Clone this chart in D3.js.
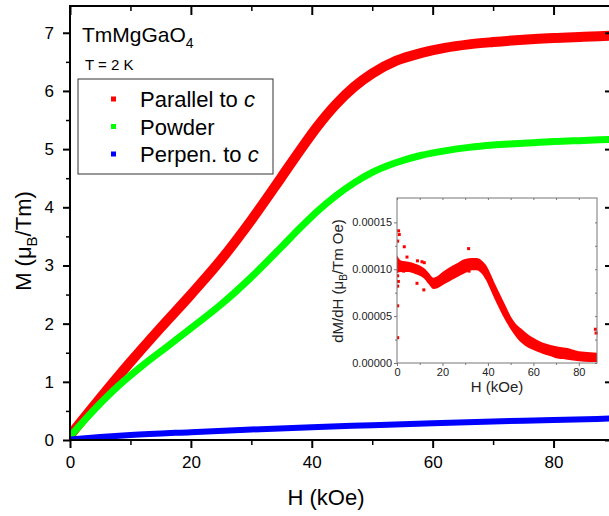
<!DOCTYPE html>
<html>
<head>
<meta charset="utf-8">
<script src="https://cdn.jsdelivr.net/npm/d3@7"></script>
<style>
  body { margin: 0; background: #fff; }
  svg { display: block; font-family: "Liberation Sans", Arial, sans-serif; }
</style>
</head>
<body>
<div id="chart"><svg></svg></div>
<script>
// M(H) at T = 2 K
const seriesNames = ["Parallel to c", "Powder", "Perpen. to c"];
const seriesColors = ["#ff0000", "#00ff00", "#0000ff"];

const parField = [0, 5, 10, 15, 20, 25, 30, 35, 38, 41, 44, 47, 50, 54, 58, 62, 66, 70, 75, 80, 85, 90];
const parM = [0.08, 0.72, 1.34, 1.93, 2.5, 3.1, 3.78, 4.52, 4.97, 5.4, 5.77, 6.07, 6.3, 6.52, 6.65, 6.74, 6.8, 6.84, 6.88, 6.91, 6.93, 6.95];

const powField = [0, 4, 8, 12, 16, 20, 25, 30, 35, 38, 41, 44, 47, 50, 54, 58, 62, 66, 70, 75, 80, 85, 90];
const powM = [0.06, 0.52, 0.93, 1.28, 1.6, 1.92, 2.33, 2.8, 3.32, 3.64, 3.94, 4.2, 4.42, 4.6, 4.77, 4.89, 4.97, 5.03, 5.07, 5.1, 5.13, 5.15, 5.17];

const perField = [0, 5, 10, 20, 30, 40, 50, 60, 70, 80, 90];
const perM = [0.01, 0.05, 0.085, 0.135, 0.18, 0.22, 0.255, 0.29, 0.32, 0.345, 0.37];

const xTicks = [0, 20, 40, 60, 80];
const xMinor = [10, 30, 50, 70, 90];
const yTicks = [0, 1, 2, 3, 4, 5, 6, 7];
const yMinor = [0.5, 1.5, 2.5, 3.5, 4.5, 5.5, 6.5];

// inset: dM/dH for H // c (band edges + stray points)
const dField = [0, 2, 5, 8, 10, 12, 14, 16, 18, 20, 23, 26, 30, 33, 35, 37, 39, 41, 43, 45, 48, 50, 53, 55, 58, 60, 63, 65, 68, 70, 75, 80, 85, 88];
const dLow = [9.6e-5, 9.7e-5, 9.7e-5, 9.5e-5, 9.3e-5, 9.0e-5, 8.4e-5, 7.9e-5, 8.0e-5, 8.3e-5, 8.7e-5, 9.1e-5, 9.6e-5, 9.9e-5, 9.9e-5, 9.6e-5, 8.9e-5, 7.9e-5, 6.8e-5, 5.8e-5, 4.4e-5, 3.6e-5, 2.6e-5, 2.1e-5, 1.6e-5, 1.4e-5, 1.1e-5, 0.9e-5, 0.7e-5, 0.5e-5, 0.35e-5, 0.2e-5, 0.1e-5, 0.1e-5];
const dHigh = [11.5e-5, 10.9e-5, 10.8e-5, 10.6e-5, 10.4e-5, 10.1e-5, 9.6e-5, 9.1e-5, 9.3e-5, 9.7e-5, 10.2e-5, 10.6e-5, 11.1e-5, 11.2e-5, 11.2e-5, 11.0e-5, 10.5e-5, 9.6e-5, 8.5e-5, 7.5e-5, 6.0e-5, 5.0e-5, 4.0e-5, 3.6e-5, 3.0e-5, 2.7e-5, 2.3e-5, 2.1e-5, 1.9e-5, 1.8e-5, 1.6e-5, 1.25e-5, 1.15e-5, 1.1e-5];
const strayField = [0.7, 1, 0.3, 3.2, 4.4, 0.3, 0.3, 0.3, 0.3, 0.6, 2.9, 9, 8.8, 12, 12, 11, 11.8, 31.5, 31.7, 87.3, 87.6];
const strayVal = [14.1e-5, 13.7e-5, 13.0e-5, 12.4e-5, 11.3e-5, 8.2e-5, 6.1e-5, 2.7e-5, 9.3e-5, 8.7e-5, 9.8e-5, 10.9e-5, 8.5e-5, 10.7e-5, 9.8e-5, 10.8e-5, 7.8e-5, 12.2e-5, 9.8e-5, 3.6e-5, 3.2e-5];

const insetXTicks = [0, 20, 40, 60, 80];
const insetXMinor = [10, 30, 50, 70];
const insetYTicks = [0, 5e-5, 10e-5, 15e-5];
const insetYMinor = [2.5e-5, 7.5e-5, 12.5e-5];

const svg = d3.select("#chart svg").attr("width", 609).attr("height", 516);

const x = d3.scaleLinear().domain([0, 90]).range([70, 614]);
const y = d3.scaleLinear().domain([0, 7.46]).range([440, 6]);

svg.append("clipPath").attr("id", "plotclip")
  .append("rect").attr("x", 70).attr("y", 6).attr("width", 544).attr("height", 434);

const line = d3.line().x(d => x(d[0])).y(d => y(d[1])).curve(d3.curveMonotoneX);
const curves = [
  { f: parField, m: parM, w: 10 },
  { f: powField, m: powM, w: 7 },
  { f: perField, m: perM, w: 6 }
];
const plot = svg.append("g").attr("clip-path", "url(#plotclip)");
curves.forEach((c, i) => {
  plot.append("path")
    .datum(c.f.map((h, j) => [h, c.m[j]]))
    .attr("d", line)
    .attr("fill", "none")
    .attr("stroke", seriesColors[i])
    .attr("stroke-width", c.w);
});

// main axes
function styleAxis(g, w) {
  g.select(".domain").remove();
  g.selectAll(".tick line").attr("stroke", "#000").attr("stroke-width", w);
  g.selectAll(".tick text").attr("fill", "#000");
}
const tickFont = "17px";
svg.append("g").attr("transform", "translate(0,440)")
  .call(d3.axisBottom(x).tickValues(xTicks).tickSize(8).tickPadding(8))
  .call(g => styleAxis(g, 2)).selectAll("text").style("font-size", tickFont);
svg.append("g").attr("transform", "translate(0,440)")
  .call(d3.axisBottom(x).tickValues(xMinor).tickSize(5).tickFormat(""))
  .call(g => styleAxis(g, 1.5));
svg.append("g").attr("transform", "translate(70,0)")
  .call(d3.axisLeft(y).tickValues(yTicks).tickSize(7).tickPadding(9))
  .call(g => styleAxis(g, 2)).selectAll("text").style("font-size", tickFont);
svg.append("g").attr("transform", "translate(70,0)")
  .call(d3.axisLeft(y).tickValues(yMinor).tickSize(4).tickFormat(""))
  .call(g => styleAxis(g, 1.5));
// mirrored inward ticks
svg.append("g").attr("transform", "translate(0,6)")
  .call(d3.axisTop(x).tickValues(xTicks).tickSize(-9).tickFormat(""))
  .call(g => styleAxis(g, 2));
svg.append("g").attr("transform", "translate(0,6)")
  .call(d3.axisTop(x).tickValues(xMinor).tickSize(-5).tickFormat(""))
  .call(g => styleAxis(g, 1.5));
svg.append("g").attr("transform", "translate(614,0)")
  .call(d3.axisRight(y).tickValues(yTicks).tickSize(-9).tickFormat(""))
  .call(g => styleAxis(g, 2));
svg.append("g").attr("transform", "translate(614,0)")
  .call(d3.axisRight(y).tickValues(yMinor).tickSize(-5).tickFormat(""))
  .call(g => styleAxis(g, 1.5));

svg.append("rect")
  .attr("x", 70).attr("y", 6).attr("width", 544).attr("height", 434)
  .attr("fill", "none").attr("stroke", "#000").attr("stroke-width", 2);

// axis titles
svg.append("text").attr("x", 326).attr("y", 505).attr("text-anchor", "middle")
  .style("font-size", "22px").text("H (kOe)");
const yl = svg.append("text").attr("transform", "translate(31,241) rotate(-90)")
  .attr("text-anchor", "middle").style("font-size", "22px");
yl.append("tspan").text("M (\u03bc");
yl.append("tspan").attr("dy", 6).style("font-size", "15px").text("B");
yl.append("tspan").attr("dy", -6).text("/Tm)");

// sample name and temperature
const title = svg.append("text").attr("x", 82).attr("y", 42).style("font-size", "21px");
title.append("tspan").text("TmMgGaO");
title.append("tspan").attr("dy", 6).style("font-size", "14px").text("4");
svg.append("text").attr("x", 85).attr("y", 70).style("font-size", "15px").text("T = 2 K");

// legend
const legend = svg.append("g");
legend.append("rect").attr("x", 78).attr("y", 79).attr("width", 195).attr("height", 95)
  .attr("fill", "#fff").attr("stroke", "#333").attr("stroke-width", 1);
seriesNames.forEach((n, i) => {
  const cy = 99 + i * 27.5;
  legend.append("rect").attr("x", 111).attr("y", cy - 2.5).attr("width", 5).attr("height", 5)
    .attr("fill", seriesColors[i]);
  const t = legend.append("text").attr("x", 140).attr("y", cy + 8).style("font-size", "22px");
  const parts = n.split(" c");
  t.append("tspan").text(parts[0]);
  if (parts.length > 1) t.append("tspan").style("font-style", "italic").text(" c");
});

// inset
const ix = d3.scaleLinear().domain([0, 88]).range([397, 597]);
const iy = d3.scaleLinear().domain([0, 17.6e-5]).range([363, 198]);
const inset = svg.append("g");
inset.append("rect").attr("x", 397).attr("y", 198).attr("width", 200).attr("height", 165)
  .attr("fill", "#fff");
const insetClip = svg.append("clipPath").attr("id", "insetclip");
insetClip.append("rect").attr("x", 397).attr("y", 198).attr("width", 201).attr("height", 166);
const ip = inset.append("g").attr("clip-path", "url(#insetclip)");
const band = d3.area()
  .x(d => ix(d[0])).y0(d => iy(d[1])).y1(d => iy(d[2]))
  .curve(d3.curveMonotoneX);
ip.append("path")
  .datum(dField.map((h, j) => [h, dLow[j], dHigh[j]]))
  .attr("d", band).attr("fill", "#ff0000");
ip.selectAll(".stray").data(strayField.map((h, j) => [h, strayVal[j]])).join("rect")
  .attr("class", "stray")
  .attr("x", d => ix(d[0]) - 1.5).attr("y", d => iy(d[1]) - 1.5)
  .attr("width", 3).attr("height", 3).attr("fill", "#ff0000");

function styleInset(g) {
  g.select(".domain").remove();
  g.selectAll(".tick line").attr("stroke", "#777").attr("stroke-width", 1);
  g.selectAll(".tick text").attr("fill", "#222").style("font-size", "11px");
}
const fmt = d3.format(".5f");
inset.append("g").attr("transform", "translate(0,363)")
  .call(d3.axisBottom(ix).tickValues(insetXTicks).tickSize(3).tickPadding(2)).call(styleInset);
inset.append("g").attr("transform", "translate(0,363)")
  .call(d3.axisBottom(ix).tickValues(insetXMinor).tickSize(2).tickFormat("")).call(styleInset);
inset.append("g").attr("transform", "translate(397,0)")
  .call(d3.axisLeft(iy).tickValues(insetYTicks).tickSize(3).tickPadding(2).tickFormat(fmt)).call(styleInset);
inset.append("g").attr("transform", "translate(397,0)")
  .call(d3.axisLeft(iy).tickValues(insetYMinor).tickSize(2).tickFormat("")).call(styleInset);
inset.append("g").attr("transform", "translate(0,198)")
  .call(d3.axisTop(ix).tickValues(insetXTicks.concat(insetXMinor)).tickSize(-2).tickFormat("")).call(styleInset);
inset.append("g").attr("transform", "translate(597,0)")
  .call(d3.axisRight(iy).tickValues(insetYTicks.concat(insetYMinor)).tickSize(-2).tickFormat("")).call(styleInset);
inset.append("rect").attr("x", 397).attr("y", 198).attr("width", 200).attr("height", 165)
  .attr("fill", "none").attr("stroke", "#777").attr("stroke-width", 1);

inset.append("text").attr("x", 497).attr("y", 392).attr("text-anchor", "middle")
  .style("font-size", "15px").attr("fill", "#222").text("H (kOe)");
const iyl = inset.append("text").attr("transform", "translate(343,281) rotate(-90)")
  .attr("text-anchor", "middle").style("font-size", "15px").attr("fill", "#222");
iyl.append("tspan").text("dM/dH (\u03bc");
iyl.append("tspan").attr("dy", 4).style("font-size", "10px").text("B");
iyl.append("tspan").attr("dy", -4).text("/Tm Oe)");
</script>
</body>
</html>
